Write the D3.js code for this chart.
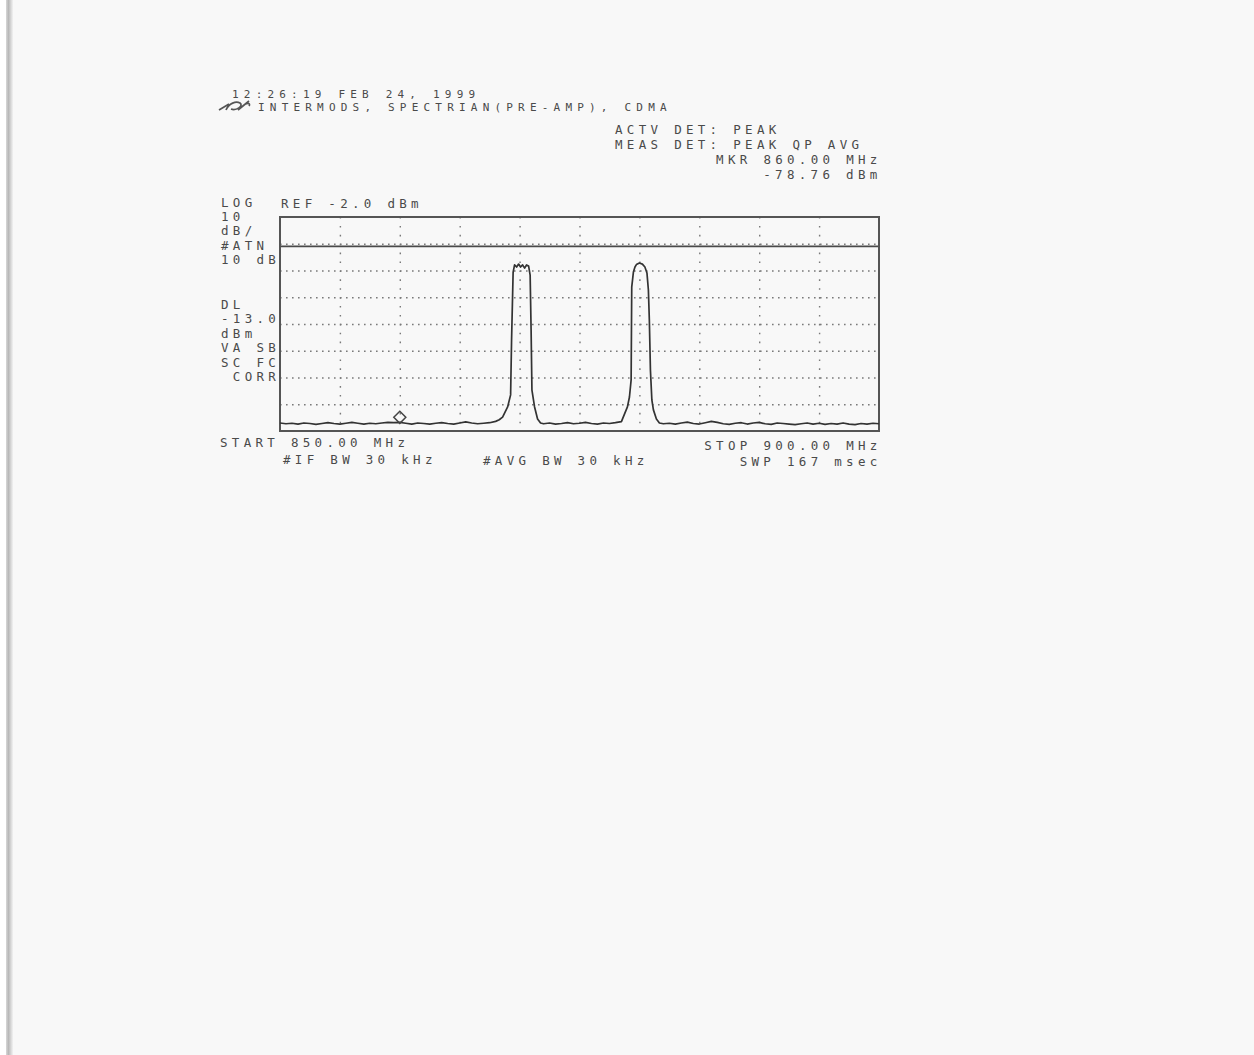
<!DOCTYPE html>
<html lang="en">
<head>
  <meta charset="UTF-8" />
  <title>Spectrum plot - intermods, CDMA</title>
  <script src="https://d3js.org/d3.v7.min.js"></script>
  <style>
    body { margin: 0; background: #f8f8f8; }
    svg { display: block; }
    .lbl {
      font-family: "DejaVu Sans Mono", "Liberation Mono", monospace;
      font-size: 12.5px;
      letter-spacing: 4.3px;
      fill: #4a4a4a;
    }
    .lbl.small {
      font-size: 11px;
      letter-spacing: 5.2px;
    }
  </style>
</head>
<body>
<svg id="chart"></svg>
<script>
  // trace: frequency (MHz) and level (dBm)
  const traceMHz = [
    850.0, 850.5, 851.0, 851.5, 852.0, 852.5, 853.0, 853.5, 854.0, 854.5,
    855.0, 855.5, 856.0, 856.5, 857.0, 857.5, 858.0, 858.5, 859.0, 859.5,
    860.0, 860.5, 861.0, 861.5, 862.0, 862.5, 863.0, 863.5, 864.0, 864.5,
    865.0, 865.5, 866.0, 866.5, 867.0, 867.5, 868.0, 868.3, 868.58,
    869.0, 869.25, 869.33, 869.46, 869.58, 869.75, 869.92, 870.08, 870.25,
    870.42, 870.58, 870.75, 870.88, 870.96, 871.03, 871.25, 871.5, 871.75,
    872.0, 872.5, 873.0, 873.5, 874.0, 874.5, 875.0, 875.5, 876.0, 876.5,
    877.0, 877.5, 878.0, 878.5,
    879.0, 879.17, 879.31, 879.36, 879.5, 879.63, 879.75, 880.0, 880.25,
    880.46, 880.63, 880.75, 880.83, 880.92, 881.04, 881.17, 881.42, 881.67,
    882.0, 882.5, 883.0, 883.5, 884.0, 884.5, 885.0, 885.5, 886.0, 886.5,
    887.0, 887.5, 888.0, 888.5, 889.0, 889.5, 890.0, 890.5, 891.0, 891.5,
    892.0, 892.5, 893.0, 893.5, 894.0, 894.5, 895.0, 895.5, 896.0, 896.5,
    897.0, 897.5, 898.0, 898.5, 899.0, 899.5, 900.0
  ];
  const traceDbm = [
    -79.0, -79.3, -79.1, -79.4, -79.0, -79.2, -79.5, -79.2, -78.9, -79.2,
    -79.4, -79.1, -78.8, -79.1, -79.4, -79.1, -79.3, -79.0, -78.8, -78.9,
    -78.76, -79.1, -79.4, -79.0, -79.2, -79.4, -79.1, -78.9, -79.2, -79.4,
    -79.0, -78.6, -79.0, -79.3, -79.1, -78.9, -78.4, -77.8, -76.8,
    -73.0, -68.5, -48.0, -22.6, -19.9, -20.7, -19.6, -20.7, -19.9,
    -21.1, -19.9, -20.3, -23.7, -44.2, -66.7, -73.0, -77.5, -79.0,
    -79.3, -79.0, -79.4, -79.2, -78.9, -79.3, -79.1, -78.8, -79.2, -79.4,
    -79.0, -79.2, -78.9, -78.5,
    -73.0, -69.3, -62.9, -28.2, -22.6, -20.7, -19.8, -19.2, -19.6,
    -20.7, -22.9, -29.3, -40.5, -59.2, -70.4, -74.1, -77.5, -79.0,
    -79.3, -79.1, -79.4, -79.0, -78.7, -79.2, -79.4, -78.9, -78.4, -78.8,
    -79.3, -79.5, -79.1, -78.9, -79.4, -79.0, -78.8, -79.3, -79.5, -79.0,
    -79.2, -79.4, -79.6, -79.3, -79.0, -79.4, -79.1, -79.5, -79.2, -79.4,
    -79.0, -79.4, -79.6, -79.2, -79.4, -79.1, -79.3
  ];

  // analyzer settings
  const startMHz = 850, stopMHz = 900;
  const refDbm = -2.0, dbPerDiv = 10, yDivs = 8, xDivs = 10;
  const displayLineDbm = -13.0;
  const markerMHz = 860.00, markerDbm = -78.76;

  // annotation text
  const headerLines = ["12:26:19 FEB 24, 1999", "INTERMODS, SPECTRIAN(PRE-AMP), CDMA"];
  const detLines = ["ACTV DET: PEAK", "MEAS DET: PEAK QP AVG"];
  const markerLines = ["MKR 860.00 MHz", "-78.76 dBm"];
  const leftTop = ["LOG", "10", "dB/", "#ATN", "10 dB"];
  const leftBottom = ["DL", "-13.0", "dBm", "VA SB", "SC FC", " CORR"];
  const refLabel = "REF -2.0 dBm";
  const footLeft = ["START 850.00 MHz", "#IF BW 30 kHz", "#AVG BW 30 kHz"];
  const footRight = ["STOP 900.00 MHz", "SWP 167 msec"];

  const W = 1254, H = 1055;
  const plot = { left: 280, top: 217, width: 599, height: 214 };
  const pitch = 11.8; // character pitch of the printer font

  const svg = d3.select("#chart").attr("width", W).attr("height", H);

  // paper + scanner edge
  const grad = svg.append("defs").append("linearGradient").attr("id", "edge");
  grad.append("stop").attr("offset", "0%").attr("stop-color", "#d8d8d8");
  grad.append("stop").attr("offset", "35%").attr("stop-color", "#b8b8b8");
  grad.append("stop").attr("offset", "100%").attr("stop-color", "#f2f2f2");
  svg.append("rect").attr("width", W).attr("height", H).attr("fill", "#f8f8f8");
  svg.append("rect").attr("width", 6).attr("height", H).attr("fill", "#ffffff");
  svg.append("rect").attr("x", 6).attr("width", 7).attr("height", H).attr("fill", "url(#edge)");

  const x = d3.scaleLinear().domain([startMHz, stopMHz]).range([plot.left, plot.left + plot.width]);
  const y = d3.scaleLinear()
              .domain([refDbm - dbPerDiv * yDivs, refDbm])
              .range([plot.top + plot.height, plot.top]);

  // graticule
  const g = svg.append("g");
  const xTicks = d3.range(1, xDivs).map(i => startMHz + i * (stopMHz - startMHz) / xDivs);
  const yTicks = d3.range(1, yDivs).map(i => refDbm - i * dbPerDiv);

  g.append("g")
    .attr("transform", `translate(0,${plot.top})`)
    .call(d3.axisTop(x).tickValues(xTicks).tickSize(-plot.height).tickFormat(""))
    .call(a => a.select(".domain").remove())
    .call(a => a.selectAll("line")
                .attr("stroke", "#7a7a7a")
                .attr("stroke-width", 1.4)
                .attr("stroke-dasharray", "1.6,7.3"));

  g.append("g")
    .attr("transform", `translate(${plot.left},0)`)
    .call(d3.axisLeft(y).tickValues(yTicks).tickSize(-plot.width).tickFormat(""))
    .call(a => a.select(".domain").remove())
    .call(a => a.selectAll("line")
                .attr("stroke", "#7a7a7a")
                .attr("stroke-width", 1.4)
                .attr("stroke-dasharray", "1.6,4.4"));

  // display line
  g.append("line")
    .attr("x1", plot.left).attr("x2", plot.left + plot.width)
    .attr("y1", y(displayLineDbm)).attr("y2", y(displayLineDbm))
    .attr("stroke", "#4a4a4a").attr("stroke-width", 1.8);

  // frame
  g.append("rect")
    .attr("x", plot.left).attr("y", plot.top)
    .attr("width", plot.width).attr("height", plot.height)
    .attr("fill", "none").attr("stroke", "#555").attr("stroke-width", 2);

  // trace
  const pts = traceMHz.map((f, i) => [f, traceDbm[i]]);
  g.append("path")
    .datum(pts)
    .attr("fill", "none")
    .attr("stroke", "#333")
    .attr("stroke-width", 1.7)
    .attr("stroke-linejoin", "round")
    .attr("d", d3.line().x(d => x(d[0])).y(d => y(d[1])));

  // marker diamond
  const mx = x(markerMHz), my = y(markerDbm) - 5;
  g.append("path")
    .attr("d", `M${mx},${my - 6}L${mx + 6},${my}L${mx},${my + 6}L${mx - 6},${my}Z`)
    .attr("fill", "none").attr("stroke", "#444").attr("stroke-width", 1.5);

  // text helper: start x, baseline y
  function label(str, x0, yb, cls) {
    svg.append("text").attr("class", cls ? "lbl " + cls : "lbl")
       .attr("x", x0).attr("y", yb)
       .attr("xml:space", "preserve")
       .style("white-space", "pre")
       .text(str);
  }
  const endAt = (str, xe) => xe - str.length * pitch + 4.3;

  label(headerLines[0], 232, 98, "small");
  label(headerLines[1], 258, 111, "small");

  // little logo left of the second header line
  svg.append("path")
    .attr("d", "M219,110 L229,104 M226,110 C229,103 236,101 240,103 C244,106 236,111 231,109 M238,110 L249,101 M243,106 C247,102 251,103 249,106")
    .attr("fill", "none").attr("stroke", "#555").attr("stroke-width", 1.7);

  label(detLines[0], 615, 134);
  label(detLines[1], 615, 149);
  label(markerLines[0], endAt(markerLines[0], 877), 164);
  label(markerLines[1], endAt(markerLines[1], 877), 179);

  label(refLabel, 281, 208);
  const topBase = [207, 221, 235, 250, 264];
  leftTop.forEach((s, i) => label(s, 221, topBase[i]));
  const botBase = [309, 323, 338, 352, 367, 381];
  leftBottom.forEach((s, i) => label(s, 221, botBase[i]));

  label(footLeft[0], 220, 447);
  label(footLeft[1], 283, 464);
  label(footLeft[2], 483, 465);
  label(footRight[0], endAt(footRight[0], 877), 450);
  label(footRight[1], endAt(footRight[1], 877), 466);
</script>
</body>
</html>
